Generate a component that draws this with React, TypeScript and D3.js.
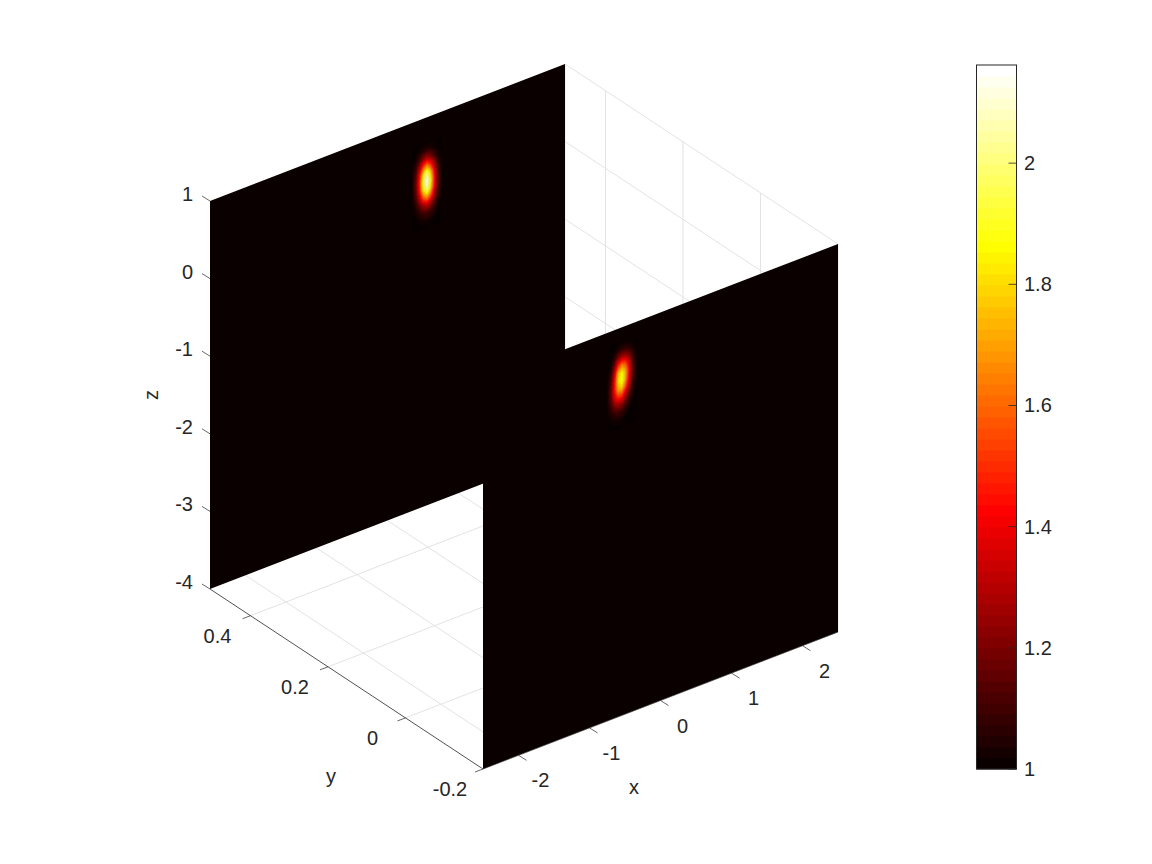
import React from "react";
import * as d3 from "d3";

const W = 1152, H = 864;
const TEXT = "#262626", GRID = "#e3e3e3", FONT = "'Liberation Sans', Arial, sans-serif";

// Axis ranges and ticks
const xDomain = [-2.5, 2.5];
const yDomain = [-0.2, 0.5045];
const zDomain = [-4, 1];
const xTicks = [-2, -1, 0, 1, 2];
const yTicks = [-0.2, 0, 0.2, 0.4];
const zTicks = [-4, -3, -2, -1, 0, 1];
const cbDomain = [1, 2.162];
const cbTicks = [1, 1.2, 1.4, 1.6, 1.8, 2];

// Slices: fixed y of each plane, with the hot spot
const backPlaneY = 0.5045;
const frontPlaneY = -0.2;
const blobStepX = 0.05;
const blobStepZ = -0.1;

const backBlobX0 = 0.356;
const backBlobZ0 = 0.676;
const backBlob = [
  [1.00,1.00,1.01,1.01,1.01,1.01,1.01,1.00,1.00],
  [1.00,1.01,1.03,1.06,1.07,1.06,1.03,1.01,1.00],
  [1.01,1.04,1.12,1.23,1.28,1.23,1.12,1.04,1.01],
  [1.03,1.10,1.29,1.53,1.65,1.53,1.29,1.10,1.03],
  [1.04,1.16,1.44,1.83,2.01,1.83,1.44,1.16,1.04],
  [1.05,1.19,1.51,1.95,2.16,1.95,1.51,1.19,1.05],
  [1.04,1.17,1.46,1.86,2.04,1.86,1.46,1.17,1.04],
  [1.03,1.12,1.32,1.59,1.72,1.59,1.32,1.12,1.03],
  [1.01,1.06,1.15,1.29,1.35,1.29,1.15,1.06,1.01],
  [1.01,1.02,1.06,1.10,1.13,1.10,1.06,1.02,1.01],
  [1.00,1.01,1.02,1.03,1.04,1.03,1.02,1.01,1.00],
  [1.00,1.00,1.00,1.01,1.01,1.01,1.00,1.00,1.00],
];

const frontBlobX0 = -0.742;
const frontBlobZ0 = 0.818;
const frontBlob = [
  [1.00,1.00,1.00,1.01,1.01,1.01,1.01,1.01,1.00],
  [1.00,1.00,1.02,1.05,1.07,1.07,1.05,1.03,1.01],
  [1.00,1.02,1.09,1.21,1.28,1.28,1.19,1.09,1.02],
  [1.01,1.05,1.22,1.50,1.63,1.58,1.36,1.15,1.03],
  [1.02,1.10,1.38,1.77,1.87,1.76,1.44,1.17,1.04],
  [1.03,1.14,1.46,1.84,1.92,1.74,1.40,1.15,1.03],
  [1.04,1.17,1.47,1.74,1.78,1.57,1.29,1.10,1.02],
  [1.04,1.16,1.38,1.53,1.51,1.33,1.16,1.05,1.01],
  [1.03,1.10,1.22,1.28,1.25,1.15,1.07,1.02,1.00],
  [1.02,1.05,1.09,1.11,1.09,1.05,1.02,1.01,1.00],
  [1.01,1.02,1.03,1.03,1.03,1.01,1.01,1.00,1.00],
  [1.00,1.00,1.01,1.01,1.01,1.00,1.00,1.00,1.00],
];

// Projection: d3 scales give the screen offset contributed by each data axis
const origin = { x: 483, y: 769 };
const xToSx = d3.scaleLinear().domain(xDomain).range([0, 355]);
const xToSy = d3.scaleLinear().domain(xDomain).range([0, -137]);
const yToSx = d3.scaleLinear().domain(yDomain).range([0, -273]);
const yToSy = d3.scaleLinear().domain(yDomain).range([0, -180]);
const zToSy = d3.scaleLinear().domain(zDomain).range([0, -388]);
const project = (x: number, y: number, z: number): [number, number] => [
  origin.x + xToSx(x) + yToSx(y),
  origin.y + xToSy(x) + yToSy(y) + zToSy(z),
];
const pathOf = (pts: [number, number][]) => d3.line()(pts) + "Z";

// MATLAB "hot" colormap, 64 levels
const hot = d3.range(64).map((i) => {
  const r = Math.min(1, (i + 1) / 24);
  const g = Math.max(0, Math.min(1, (i + 1 - 24) / 24));
  const b = Math.max(0, Math.min(1, (i + 1 - 48) / 16));
  return d3.rgb(r * 255, g * 255, b * 255).formatHex();
});
const colorOf = d3.scaleQuantize<string>().domain(cbDomain).range(hot);

const cbScale = d3.scaleLinear().domain(cbDomain).range([769, 65]);
const CB = { left: 976.5, right: 1016.5 };

function Blob({ m, x0, z0, y }: { m: number[][]; x0: number; z0: number; y: number }) {
  // Shaded-interp rendering of the read grid: each grid cell is shaded in sub-cells
  const sub = 3;
  const xs = d3.scaleLinear().domain([0, 1]).range([x0, x0 + blobStepX]);
  const zs = d3.scaleLinear().domain([0, 1]).range([z0, z0 + blobStepZ]);
  const cells: React.ReactNode[] = [];
  const rows = m.length, cols = m[0].length;
  const nR = (rows - 1) * (sub * 2), nC = (cols - 1) * sub;
  const val = (r: number, c: number) => {
    const r0 = Math.min(rows - 2, Math.floor(r)), c0 = Math.min(cols - 2, Math.floor(c));
    const fr = r - r0, fc = c - c0;
    const top = d3.interpolateNumber(m[r0][c0], m[r0][c0 + 1])(fc);
    const bot = d3.interpolateNumber(m[r0 + 1][c0], m[r0 + 1][c0 + 1])(fc);
    return d3.interpolateNumber(top, bot)(fr);
  };
  for (let i = 0; i < nR; i++) {
    for (let j = 0; j < nC; j++) {
      const r = i / (sub * 2), c = j / sub;
      const dr = 1 / (sub * 2), dc = 1 / sub;
      const v = val(r + dr / 2, c + dc / 2);
      const a = project(xs(c), y, zs(r));
      const b = project(xs(c + dc), y, zs(r));
      const d = project(xs(c + dc), y, zs(r + dr));
      const e = project(xs(c), y, zs(r + dr));
      const col = colorOf(v);
      cells.push(<path key={i + "-" + j} d={pathOf([a, b, d, e])} fill={col} stroke={col} strokeWidth={0.4} />);
    }
  }
  return <g>{cells}</g>;
}

const Txt = ({ x, y, children, anchor = "middle", rotate }: any) => (
  <text
    x={x}
    y={y}
    textAnchor={anchor}
    dominantBaseline="central"
    fontFamily={FONT}
    fontSize={20}
    fill={TEXT}
    transform={rotate ? `rotate(${rotate} ${x} ${y})` : undefined}
  >
    {children}
  </text>
);

const xMax = xDomain[1], xMin = xDomain[0], yMax = yDomain[1], yMin = yDomain[0], zMax = zDomain[1], zMin = zDomain[0];

const seg = (a: [number, number], b: [number, number], stroke: string, sw: number, key: string) => (
  <line key={key} x1={a[0]} y1={a[1]} x2={b[0]} y2={b[1]} stroke={stroke} strokeWidth={sw} />
);

const plane = (y: number) =>
  pathOf([project(xMin, y, zMin), project(xMax, y, zMin), project(xMax, y, zMax), project(xMin, y, zMax)]);

export default function App() {
  return (
    <svg width={W} height={H} viewBox={`0 0 ${W} ${H}`} style={{ position: "absolute", left: 0, top: 0, background: "#fff" }}>
      {/* Grid on the floor */}
      {xTicks.map((t) => seg(project(t, yMin, zMin), project(t, yMax, zMin), GRID, 1, "fx" + t))}
      {yTicks.map((t) => seg(project(xMin, t, zMin), project(xMax, t, zMin), GRID, 1, "fy" + t))}
      {/* Grid on the x = max wall */}
      {yTicks.map((t) => seg(project(xMax, t, zMin), project(xMax, t, zMax), GRID, 1, "wy" + t))}
      {zTicks.map((t) => seg(project(xMax, yMin, t), project(xMax, yMax, t), GRID, 1, "wz" + t))}
      {seg(project(xMax, yMax, zMin), project(xMax, yMax, zMax), GRID, 1, "edge")}

      {/* Slices */}
      <path d={plane(backPlaneY)} fill={hot[0]} />
      <Blob m={backBlob} x0={backBlobX0} z0={backBlobZ0} y={backPlaneY} />
      <path d={plane(frontPlaneY)} fill={hot[0]} />
      <Blob m={frontBlob} x0={frontBlobX0} z0={frontBlobZ0} y={frontPlaneY} />

      {/* Axis lines and ticks */}
      {seg(project(xMin, yMax, zMin), project(xMin, yMin, zMin), TEXT, 0.8, "ay")}
      {seg(project(xMin, yMin, zMin), project(xMax, yMin, zMin), TEXT, 0.6, "ax")}
      {xTicks.map((t) => {
        const p = project(t, yMin, zMin);
        return seg(p, [p[0] + 8, p[1] + 5], TEXT, 0.7, "tx" + t);
      })}
      {yTicks.map((t) => {
        const p = project(xMin, t, zMin);
        return seg(p, [p[0] - 8, p[1] + 3], TEXT, 0.7, "ty" + t);
      })}
      {zTicks.map((t) => {
        const p = project(xMin, yMax, t);
        return seg(p, [p[0] - 8, p[1] - 5], TEXT, 0.7, "tz" + t);
      })}

      {/* Tick labels */}
      {xTicks.map((t) => {
        const p = project(t, yMin, zMin);
        return <Txt key={t} x={p[0] + 22} y={p[1] + 25}>{String(t)}</Txt>;
      })}
      {yTicks.map((t) => {
        const p = project(xMin, t, zMin);
        return <Txt key={t} x={p[0] - 33} y={p[1] + 20}>{String(t)}</Txt>;
      })}
      {zTicks.map((t) => {
        const p = project(xMin, yMax, t);
        return <Txt key={t} x={p[0] - 17} y={p[1] - 7} anchor="end">{String(t)}</Txt>;
      })}
      <Txt x={634} y={787}>x</Txt>
      <Txt x={331} y={776}>y</Txt>
      <Txt x={151} y={395} rotate={-90}>z</Txt>

      {/* Colorbar */}
      {hot.map((c, i) => {
        const step = (cbDomain[1] - cbDomain[0]) / hot.length;
        const yTop = cbScale(cbDomain[0] + (i + 1) * step);
        const yBot = cbScale(cbDomain[0] + i * step);
        return <rect key={c + i} x={CB.left} width={CB.right - CB.left} y={yTop} height={yBot - yTop + 0.5} fill={c} />;
      })}
      <rect x={CB.left} y={cbScale(cbDomain[1])} width={CB.right - CB.left} height={cbScale(cbDomain[0]) - cbScale(cbDomain[1])} fill="none" stroke={TEXT} strokeWidth={1} />
      {cbTicks.map((t) => (
        <g key={t}>
          <line x1={CB.right - 8} x2={CB.right} y1={cbScale(t)} y2={cbScale(t)} stroke={TEXT} strokeWidth={0.8} />
          <Txt x={1024} y={cbScale(t)} anchor="start">{String(t)}</Txt>
        </g>
      ))}
    </svg>
  );
}
